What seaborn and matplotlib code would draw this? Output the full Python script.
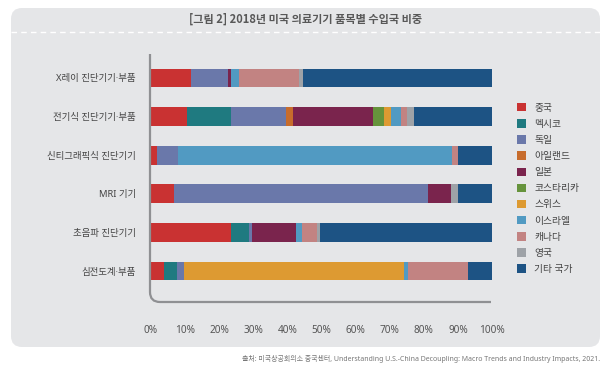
import numpy as np
import pandas as pd
import matplotlib
matplotlib.use("Agg")
import matplotlib.pyplot as plt
import seaborn as sns
from matplotlib.patches import FancyBboxPatch, Patch, PathPatch
from matplotlib.path import Path
from matplotlib.transforms import Affine2D

# ---------------- data ----------------
categories = ["X레이 진단기기·부품", "전기식 진단기기·부품", "신티그래픽식 진단기기",
              "MRI 기기", "초음파 진단기기", "심전도계·부품"]
countries = ["중국", "멕시코", "독일", "아일랜드", "일본", "코스타리카",
             "스위스", "이스라엘", "캐나다", "영국", "기타 국가"]
china      = [11.7, 10.7, 1.8, 6.7, 23.6, 3.7]
mexico     = [0.0, 12.9, 0.0, 0.0, 5.1, 4.0]
germany    = [10.8, 15.9, 6.0, 74.4, 1.0, 2.1]
ireland    = [0.0, 2.0, 0.0, 0.0, 0.0, 0.0]
japan      = [1.1, 23.7, 0.0, 7.0, 12.7, 0.0]
costarica  = [0.0, 3.0, 0.0, 0.0, 0.0, 0.0]
swiss      = [0.0, 2.1, 0.0, 0.0, 0.0, 64.4]
israel     = [2.1, 3.0, 80.4, 0.0, 2.0, 1.3]
canada     = [17.8, 1.9, 1.7, 0.0, 4.2, 17.6]
uk         = [1.0, 1.9, 0.0, 1.8, 1.0, 0.0]
other      = [55.5, 22.9, 10.1, 10.1, 50.4, 6.9]
series = [china, mexico, germany, ireland, japan, costarica, swiss, israel,
          canada, uk, other]
colors = ["#c93232", "#1f7a80", "#6a78aa", "#c76c2c", "#7a244d", "#66933c",
          "#dd9a32", "#519ac2", "#c28382", "#9ea2a7", "#1d5384"]
xticks = [0, 10, 20, 30, 40, 50, 60, 70, 80, 90, 100]
xticklabels = [f"{t}%" for t in xticks]
title = "[그림 2] 2018년 미국 의료기기 품목별 수입국 비중"
source = ("출처: 미국상공회의소 중국센터, Understanding U.S.-China Decoupling: "
          "Macro Trends and Industry Impacts, 2021.")

df = pd.DataFrame({c: s for c, s in zip(countries, series)}, index=categories)
# normalise each row to 100%
df = df.div(df.sum(axis=1), axis=0) * 100
cum = df.cumsum(axis=1)

# ---------------- style ----------------
sns.set_theme(style="white")
FAM = ["Noto Sans", "Noto Sans CJK KR", "DejaVu Sans"]
plt.rcParams["font.family"] = FAM

W, H = 607, 373
fig = plt.figure(figsize=(W / 100, H / 100), dpi=100)
fig.patch.set_facecolor("white")

px = Affine2D().scale(1 / W, 1 / H) + fig.transFigure


def P(x, y):
    return (x, H - y)


PANEL = "#e5e6e8"
# background panel
panel = FancyBboxPatch(P(11, 347), 589, 339,
                       boxstyle="round,pad=0,rounding_size=11",
                       transform=px, facecolor=PANEL, edgecolor="none",
                       zorder=-2)
fig.patches.append(panel)
# dashed line under title
fig.lines.append(plt.Line2D([11 / W, 600 / W], [1 - 31.5 / H, 1 - 31.5 / H],
                            transform=fig.transFigure, color="white",
                            lw=1.0, ls=(0, (4, 3)), zorder=-1))
fig.text(306 / W, 1 - 19 / H, title, ha="center", va="center",
         fontsize=8, fontweight="bold", color="#585858",
         family=["Noto Sans CJK KR", "DejaVu Sans"])

# ---------------- axes ----------------
ax_left, ax_right = 151, 492
ax_top, ax_bot = 58.7, 290.3
ax = fig.add_axes([ax_left / W, 1 - ax_bot / H, (ax_right - ax_left) / W,
                   (ax_bot - ax_top) / H])
ax.set_facecolor("none")
ax.patch.set_alpha(0)

for col, color in reversed(list(zip(countries, colors))):
    sns.barplot(x=cum[col].values, y=categories, color=color, orient="h",
                width=0.49, saturation=1, linewidth=0, ax=ax, zorder=3)

ax.set_xlim(0, 100)
ax.set_ylim(5.5, -0.5)
for s in ax.spines.values():
    s.set_visible(False)
ax.set_xticks(xticks)
ax.set_xticklabels(xticklabels, fontsize=7.2, color="#555555")
ax.tick_params(axis="x", length=0, pad=25)
ax.tick_params(axis="y", length=0, pad=11, labelsize=6.8, labelcolor="#444444")
ax.set_xlabel("")
ax.set_ylabel("")
ax.grid(False)

# rounded axis frame
verts = [P(150, 54), P(150, 292), P(150, 302), P(160, 302), P(491, 302)]
codes = [Path.MOVETO, Path.LINETO, Path.CURVE3, Path.CURVE3, Path.LINETO]
frame = PathPatch(Path(verts, codes), transform=px, facecolor="none",
                  edgecolor="#8f9093", lw=1.6, zorder=2)
fig.patches.append(frame)

# legend
handles = [Patch(facecolor=c, edgecolor="none") for c in colors]
fig.legend(handles, countries, loc="upper left",
           bbox_to_anchor=(517 / W, 1 - 103 / H), frameon=False,
           fontsize=7, labelcolor="#444444", handlelength=0.95,
           handleheight=0.95, handletextpad=0.85, labelspacing=0.68,
           borderpad=0, borderaxespad=0)

fig.text(600 / W, 1 - 359 / H, source, ha="right", va="center",
         fontsize=5, color="#777777")

fig.savefig("out.png", dpi=100, facecolor="white")
